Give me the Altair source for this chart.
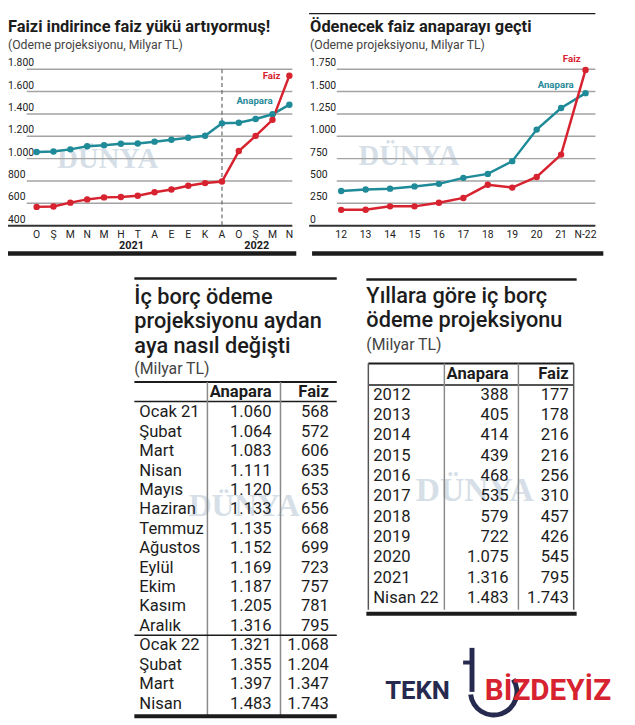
import altair as alt
import pandas as pd

# ---------------- data ----------------
month_names = ["Ocak 21", "Şubat", "Mart", "Nisan", "Mayıs", "Haziran", "Temmuz",
               "Ağustos", "Eylül", "Ekim", "Kasım", "Aralık", "Ocak 22", "Şubat",
               "Mart", "Nisan"]
month_ticks = ["O", "Ş", "M", "N", "M", "H", "T", "A", "E", "E", "K", "A", "O", "Ş", "M", "N"]
anapara_month = [1060, 1064, 1083, 1111, 1120, 1133, 1135, 1152, 1169, 1187, 1205,
                 1316, 1321, 1355, 1397, 1483]
faiz_month = [568, 572, 606, 635, 653, 656, 668, 699, 723, 757, 781, 795, 1068,
              1204, 1347, 1743]

year_names = ["2012", "2013", "2014", "2015", "2016", "2017", "2018", "2019",
              "2020", "2021", "Nisan 22"]
year_ticks = ["12", "13", "14", "15", "16", "17", "18", "19", "20", "21", "N-22"]
anapara_year = [388, 405, 414, 439, 468, 535, 579, 722, 1075, 1316, 1483]
faiz_year = [177, 178, 216, 216, 256, 310, 457, 426, 545, 795, 1743]

left_y_ticks = [400, 600, 800, 1000, 1200, 1400, 1600, 1800]
right_y_ticks = [0, 250, 500, 750, 1000, 1250, 1500, 1750]
series = ["Anapara", "Faiz"]

# ---------------- style ----------------
TEAL = "#1f8a98"
RED = "#d7232f"
NAVY = "#262a4f"
SANS = "Roboto, Liberation Sans, sans-serif"
SERIF = "Liberation Serif, DejaVu Serif, serif"
GRID = "#a3a3a3"
INK = "#1c1c1c"
WM = "#d6dfe7"

W, H = 627, 717


def X(r):
    return r - 5


def Y(r):
    return 1 + (r - 3) * 0.99


def fmt(v):
    return f"{v:,}".replace(",", ".")


def sc(domain, rng):
    return alt.Scale(domain=domain, range=rng, nice=False, zero=False)


dummy = pd.DataFrame({"a": [0]})


def axA(f):
    return alt.X(f, type="quantitative", scale=sc([0, 15], [X(34), X(290)]), axis=None)


def ayA(f):
    return alt.Y(f, type="quantitative", scale=sc([400, 1800], [Y(220), Y(60)]), axis=None)


def axB(f):
    return alt.X(f, type="quantitative", scale=sc([0, 10], [X(342.5), X(590)]), axis=None)


def ayB(f):
    return alt.Y(f, type="quantitative", scale=sc([0, 1750], [Y(220), Y(60)]), axis=None)


df_m = pd.DataFrame({"i": list(range(len(month_names))), "ay": month_names,
                     "tick": month_ticks, "Anapara": anapara_month, "Faiz": faiz_month})
long_m = df_m.melt(id_vars=["i"], value_vars=series, var_name="seri", value_name="deger")
df_y = pd.DataFrame({"i": list(range(len(year_names))), "yil": year_names,
                     "tick": year_ticks, "Anapara": anapara_year, "Faiz": faiz_year})
long_y = df_y.melt(id_vars=["i"], value_vars=series, var_name="seri", value_name="deger")

tA = pd.DataFrame({"v": left_y_ticks, "lbl": [fmt(v) for v in left_y_ticks]})
tB = pd.DataFrame({"v": right_y_ticks, "lbl": [fmt(v) for v in right_y_ticks]})

color_enc = alt.Color("seri:N", scale=alt.Scale(domain=series, range=[TEAL, RED]), legend=None)


def txt(text, x, y, size, color=INK, weight="normal", align="left", font=SANS,
        baseline="middle", **kw):
    return alt.Chart(dummy).mark_text(
        text=text, fontSize=size, color=color, fontWeight=weight, align=align,
        baseline=baseline, font=font, **kw
    ).encode(x=alt.value(x), y=alt.value(y))


def hrule(x1, x2, y, color=INK, width=1.0, **kw):
    return alt.Chart(dummy).mark_rule(color=color, strokeWidth=width, **kw).encode(
        x=alt.value(x1), x2=alt.value(x2), y=alt.value(y))


def vrule(x, y1, y2, color=INK, width=1.0, **kw):
    return alt.Chart(dummy).mark_rule(color=color, strokeWidth=width, **kw).encode(
        x=alt.value(x), y=alt.value(y1), y2=alt.value(y2))


layers = []

# faint "DÜNYA" watermarks
for (wx, wy, ws) in [(55, 152, 29), (360, 149, 29), (188, 507, 32), (418, 492, 34)]:
    layers.append(txt("DÜNYA", X(wx), Y(wy), ws, color=WM, weight="bold", font=SERIF))

# ---------- chart A ----------
layers += [
    txt("Faizi indirince faiz yükü artıyormuş!", X(5), Y(17), 16.6, weight="bold"),
    txt("(Odeme projeksiyonu, Milyar TL)", X(5), Y(35), 12.4, color="#444"),
    alt.Chart(tA[tA.v > left_y_ticks[0]]).mark_rule(color=GRID, strokeWidth=1.5).encode(
        y=ayA("v"), x=alt.value(X(24)), x2=alt.value(X(293))),
    alt.Chart(tA[tA.v == left_y_ticks[0]]).mark_rule(color="#333", strokeWidth=2).encode(
        y=ayA("v"), x=alt.value(X(5)), x2=alt.value(X(293))),
    alt.Chart(tA).mark_text(align="left", baseline="middle", dy=-6, fontSize=10.5,
                            font=SANS, color="#222").encode(
        y=ayA("v"), x=alt.value(X(5)), text="lbl:N"),
    alt.Chart(df_m[df_m.ay == "Aralık"]).mark_rule(
        strokeDash=[4, 3], color="#666", strokeWidth=1.2).encode(
        x=axA("i"), y=alt.value(Y(60)), y2=alt.value(Y(220))),
    alt.Chart(long_m).mark_line(strokeWidth=2.5, point=alt.OverlayMarkDef(
        filled=True, size=42, opacity=1)).encode(
        x=axA("i"), y=ayA("deger"), color=color_enc, order="i:Q"),
    alt.Chart(df_m).mark_text(fontSize=10.5, font=SANS, color="#222").encode(
        x=axA("i"), y=alt.value(Y(230)), text="tick:N"),
    txt("2021", X(130), Y(241), 11, weight="bold", align="center"),
    txt("2022", X(257), Y(241), 11, weight="bold", align="center"),
    txt("Faiz", X(281), Y(67), 9.8, color=RED, weight="bold", align="right"),
    txt("Anapara", X(273), Y(92), 9.8, color=TEAL, weight="bold", align="right"),
    hrule(X(5), X(297), Y(248.5), width=4.5),
]

# ---------- chart B ----------
layers += [
    hrule(X(310), X(600), Y(3), width=1.2),
    txt("Ödenecek faiz anaparayı geçti", X(311), Y(17), 16.6, weight="bold"),
    txt("(Odeme projeksiyonu, Milyar TL)", X(311), Y(35), 12.4, color="#444"),
    alt.Chart(tB[tB.v > right_y_ticks[0]]).mark_rule(color=GRID, strokeWidth=1.5).encode(
        y=ayB("v"), x=alt.value(X(338)), x2=alt.value(X(600))),
    alt.Chart(tB[tB.v == right_y_ticks[0]]).mark_rule(color="#333", strokeWidth=2).encode(
        y=ayB("v"), x=alt.value(X(310)), x2=alt.value(X(600))),
    alt.Chart(tB).mark_text(align="left", baseline="middle", dy=-6, fontSize=10.5,
                            font=SANS, color="#222").encode(
        y=ayB("v"), x=alt.value(X(311)), text="lbl:N"),
    alt.Chart(long_y).mark_line(strokeWidth=2.5, point=alt.OverlayMarkDef(
        filled=True, size=42, opacity=1)).encode(
        x=axB("i"), y=ayB("deger"), color=color_enc, order="i:Q"),
    alt.Chart(df_y).mark_text(fontSize=10.5, font=SANS, color="#222").encode(
        x=axB("i"), y=alt.value(Y(230)), text="tick:N"),
    txt("Faiz", X(585), Y(50), 9.8, color=RED, weight="bold", align="right"),
    txt("Anapara", X(578), Y(76), 9.8, color=TEAL, weight="bold", align="right"),
    hrule(X(313), X(608), Y(248.5), width=4.5),
]

# ---------- table A (monthly) ----------
tabA = pd.DataFrame({"r": list(range(len(month_names))), "name": month_names,
                     "ana": [fmt(v) for v in anapara_month],
                     "faiz": [fmt(v) for v in faiz_month]})
tyA = alt.Y("r:Q", scale=sc([0, len(month_names) - 1], [Y(411), Y(709)]), axis=None)
cell = dict(baseline="middle", font=SANS, fontSize=16.8, color=INK)
layers += [
    hrule(X(133), X(338), Y(274), width=2.5),
    alt.Chart(dummy).mark_text(
        text=["İç borç ödeme", "projeksiyonu aydan", "aya  nasıl değişti"],
        fontSize=22, lineHeight=24.8, fontWeight=500, font=SANS, color=INK,
        align="left", baseline="middle").encode(x=alt.value(X(133)), y=alt.value(Y(293))),
    txt("(Milyar TL)", X(133), Y(367), 16, color="#444"),
    hrule(X(133), X(338), Y(380), width=2),
    hrule(X(133), X(338), Y(400), width=1.5),
    vrule(X(207), Y(380), Y(721), color="#8a8a8a", width=1.5),
    vrule(X(281), Y(380), Y(721), color="#8a8a8a", width=1.5),
    txt("Anapara", X(272), Y(390), 16.8, weight="bold", align="right"),
    txt("Faiz", X(330), Y(390), 16.8, weight="bold", align="right"),
    hrule(X(133), X(338), Y(639), width=1.5),
    alt.Chart(tabA).mark_text(align="left", **cell).encode(
        x=alt.value(X(138)), y=tyA, text="name:N"),
    alt.Chart(tabA).mark_text(align="right", **cell).encode(
        x=alt.value(X(272)), y=tyA, text="ana:N"),
    alt.Chart(tabA).mark_text(align="right", **cell).encode(
        x=alt.value(X(330)), y=tyA, text="faiz:N"),
    hrule(X(133), X(338), Y(722), width=4),
]

# ---------- table B (yearly) ----------
tabB = pd.DataFrame({"r": list(range(len(year_names))), "name": year_names,
                     "ana": [fmt(v) for v in anapara_year],
                     "faiz": [fmt(v) for v in faiz_year]})
tyB = alt.Y("r:Q", scale=sc([0, len(year_names) - 1], [Y(393), Y(601)]), axis=None)
layers += [
    hrule(X(368), X(581), Y(275), width=2.5),
    alt.Chart(dummy).mark_text(
        text=["Yıllara göre iç borç", "ödeme projeksiyonu"],
        fontSize=22, lineHeight=24.8, fontWeight=500, font=SANS, color=INK,
        align="left", baseline="middle").encode(x=alt.value(X(368)), y=alt.value(Y(292))),
    txt("(Milyar TL)", X(368), Y(342), 16, color="#444"),
    hrule(X(370), X(578), Y(361), width=2),
    hrule(X(370), X(578), Y(383), width=1.5),
    vrule(X(370), Y(361), Y(613), color="#555", width=1.5),
    vrule(X(578), Y(361), Y(613), color="#555", width=1.5),
    vrule(X(447), Y(361), Y(613), color="#8a8a8a", width=1.5),
    vrule(X(522), Y(361), Y(613), color="#8a8a8a", width=1.5),
    txt("Anapara", X(512), Y(372), 16.8, weight="bold", align="right"),
    txt("Faiz", X(573), Y(372), 16.8, weight="bold", align="right"),
    alt.Chart(tabB).mark_text(align="left", **cell).encode(
        x=alt.value(X(375)), y=tyB, text="name:N"),
    alt.Chart(tabB).mark_text(align="right", **cell).encode(
        x=alt.value(X(512)), y=tyB, text="ana:N"),
    alt.Chart(tabB).mark_text(align="right", **cell).encode(
        x=alt.value(X(573)), y=tyB, text="faiz:N"),
    hrule(X(368), X(581), Y(617), width=4),
]

# ---------- logo watermark ----------
layers += [
    txt("TEKN", X(387), Y(696), 26, color=NAVY, weight="bold"),
    alt.Chart(dummy).mark_arc(radius=26, radius2=21, theta=1.0, theta2=4.6, color=NAVY).encode(
        x=alt.value(X(497)), y=alt.value(Y(697))),
    vrule(X(475), Y(652), Y(697), color=NAVY, width=5),
    hrule(X(466), X(475), Y(667), color=NAVY, width=4),
    txt("BİZDEYİZ", X(488), Y(696), 30, color=RED, weight="bold"),
]

chart = alt.layer(*layers, data=dummy).resolve_scale(
    x="independent", y="independent", color="independent"
).properties(
    width=W, height=H, autosize=alt.AutoSizeParams(type="none"), padding=0
).configure_view(stroke=None)

chart.save("out.html", embed_options={"renderer": "svg", "actions": False})
